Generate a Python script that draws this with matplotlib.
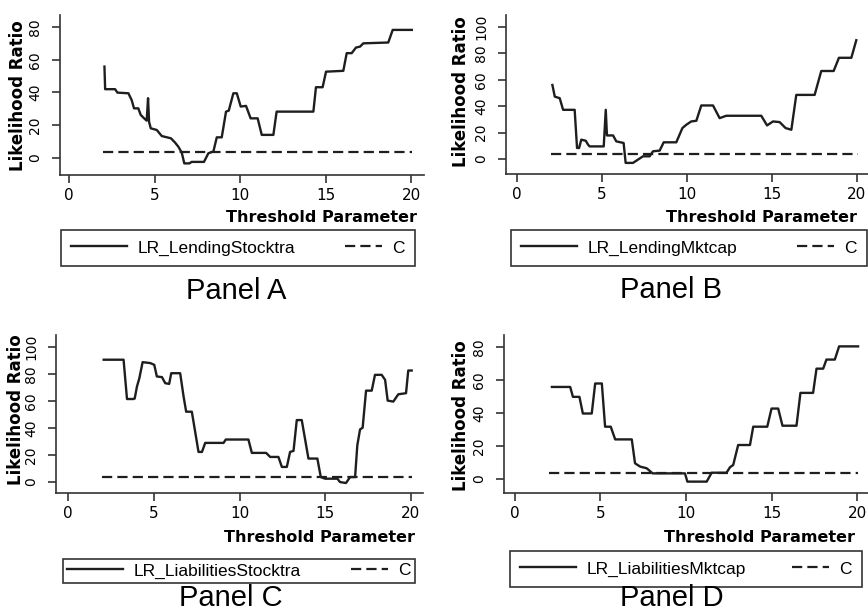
import matplotlib.pyplot as plt
from matplotlib.legend_handler import HandlerLine2D

# LR statistic against the threshold parameter
a_thr = [2.07, 2.11, 2.69, 2.83, 3.47, 3.66, 3.80, 4.05, 4.19, 4.39, 4.54, 4.62, 4.68, 4.78,
         5.13, 5.42, 5.96, 6.20, 6.39, 6.59, 6.74, 7.04, 7.17, 7.89, 8.15, 8.44, 8.64, 8.93,
         9.18, 9.34, 9.61, 9.81, 10.04, 10.35, 10.62, 11.03, 11.27, 11.95, 12.14, 14.29,
         14.44, 14.83, 15.03, 16.04, 16.24, 16.53, 16.78, 17.02, 17.21, 18.67, 18.93, 20.05]
a_lr = [55.8, 42.0, 42.0, 39.9, 39.5, 35.4, 30.3, 30.3, 26.3, 24.2, 22.8, 36.5, 22.0, 18.1,
        17.1, 13.4, 12.0, 9.4, 6.9, 3.3, -3.3, -3.3, -2.4, -2.4, 2.9, 3.9, 12.6, 12.6,
        28.3, 28.9, 39.5, 39.5, 31.4, 31.8, 24.2, 24.2, 14.1, 14.1, 28.3, 28.3,
        43.2, 43.2, 52.7, 53.2, 64.0, 64.0, 67.4, 68.0, 70.0, 70.5, 78.2, 78.2]

b_thr = [2.08, 2.22, 2.51, 2.71, 3.39, 3.53, 3.65, 3.78, 4.04, 4.18, 4.27, 5.10, 5.22, 5.29,
         5.65, 5.84, 6.27, 6.39, 6.82, 7.41, 7.80, 8.00, 8.39, 8.63, 9.37, 9.73, 9.96, 10.25,
         10.55, 10.84, 11.53, 11.92, 12.31, 14.37, 14.71, 15.06, 15.45, 15.80, 16.14, 16.43,
         17.51, 17.90, 18.63, 18.94, 19.67, 19.96]
b_lr = [56.0, 47.2, 46.0, 37.2, 37.2, 8.3, 8.3, 14.6, 13.8, 10.8, 9.5, 9.5, 37.2, 17.8,
        17.8, 13.3, 12.1, -3.0, -3.0, 2.0, 2.0, 5.8, 6.3, 12.6, 12.6, 23.4, 25.9, 28.4,
        28.9, 40.5, 40.5, 30.9, 32.7, 32.7, 25.4, 28.4, 27.9, 23.4, 22.1, 48.5,
        48.5, 66.6, 66.6, 76.6, 76.6, 89.9]

c_thr = [2.08, 3.24, 3.44, 3.83, 3.89, 4.02, 4.16, 4.35, 4.80, 5.03, 5.18, 5.48, 5.67, 5.90,
         6.02, 6.54, 6.74, 6.89, 7.22, 7.61, 7.81, 8.00, 9.07, 9.20, 10.52, 10.72, 11.55,
         11.79, 12.27, 12.47, 12.76, 12.95, 13.15, 13.34, 13.63, 14.02, 14.54, 14.74, 14.99,
         15.71, 15.86, 16.21, 16.45, 16.74, 16.87, 17.03, 17.18, 17.38, 17.71, 17.90, 18.29,
         18.49, 18.64, 18.97, 19.26, 19.71, 19.84, 20.04]
c_lr = [90.6, 90.6, 61.5, 61.5, 61.9, 70.7, 76.9, 88.8, 88.1, 86.8, 78.2, 77.7, 73.2, 72.7,
        80.6, 80.6, 63.3, 52.1, 52.1, 22.3, 22.3, 29.0, 29.0, 31.5, 31.5, 21.6, 21.6,
        18.6, 18.6, 11.2, 11.2, 22.3, 23.1, 45.9, 45.9, 17.4, 17.4, 3.7, 2.5,
        2.5, 0.0, -0.7, 3.7, 3.7, 27.3, 39.0, 40.2, 67.7, 67.7, 79.4, 79.4,
        75.7, 60.3, 59.6, 65.0, 65.8, 82.6, 82.6]

d_thr = [2.16, 3.23, 3.39, 3.77, 3.97, 4.49, 4.69, 5.08, 5.27, 5.60, 5.86, 6.83, 7.02, 7.32,
         7.70, 8.05, 9.94, 10.08, 11.21, 11.50, 12.37, 12.57, 12.76, 13.05, 13.74, 13.93,
         14.75, 15.00, 15.39, 15.64, 16.46, 16.69, 17.43, 17.63, 18.02, 18.21, 18.70, 18.95,
         20.06]
d_lr = [55.8, 55.8, 49.8, 49.8, 39.7, 39.7, 57.9, 57.9, 31.7, 31.7, 24.0, 24.0, 9.5, 7.5,
        6.5, 3.4, 3.4, -1.6, -1.6, 3.8, 3.8, 7.1, 8.5, 20.6, 20.6, 31.7,
        31.7, 42.7, 42.7, 32.3, 32.3, 52.2, 52.2, 66.9, 66.9, 72.4, 72.4, 80.4,
        80.4]

# critical value line C
crit_thr = [2.0, 20.05]
crit_lr = [3.4, 3.4]

x_ticks = [0, 5, 10, 15, 20]

W, H = 868.0, 613.0


def fx(px):
    return px / W


def fy(py):
    return 1 - py / H


# box = spine left, right, top, bottom in pixels; other positions also pixels
panels = [
    dict(thr=a_thr, lr=a_lr, name='LR_LendingStocktra', title='Panel A',
         box=(60, 424, 15, 175), xlim=(-0.53, 20.76), ylim=(-10.4, 87.3), ytop=80,
         xlab=(417, 217), ylab=(18, 96), leg=(61, 415, 230), bpad=0.6, ttl=(236, 299)),
    dict(thr=b_thr, lr=b_lr, name='LR_LendingMktcap', title='Panel B',
         box=(506, 868, 15, 174), xlim=(-0.65, 20.65), ylim=(-11.4, 109), ytop=100,
         xlab=(857, 217), ylab=(461, 92), leg=(511, 867, 230), bpad=0.6, ttl=(671, 298)),
    dict(thr=c_thr, lr=c_lr, name='LR_LiabilitiesStocktra', title='Panel C',
         box=(56, 423, 335, 493), xlim=(-0.7, 20.7), ylim=(-8.1, 108.9), ytop=100,
         xlab=(415, 537), ylab=(16, 410), leg=(63, 415, 559), bpad=0.25, ttl=(231, 606)),
    dict(thr=d_thr, lr=d_lr, name='LR_LiabilitiesMktcap', title='Panel D',
         box=(504, 868, 335, 493), xlim=(-0.64, 20.64), ylim=(-8.5, 87.3), ytop=80,
         xlab=(855, 537), ylab=(461, 416), leg=(510, 862, 551), bpad=0.6, ttl=(672, 606)),
]

ink = '#1e1e1e'
fig = plt.figure(figsize=(8.68, 6.13), dpi=100)

for p in panels:
    L, R, T, B = p['box']
    ax = fig.add_axes([fx(L), fy(B), fx(R) - fx(L), fy(T) - fy(B)])
    h1, = ax.plot(p['thr'], p['lr'], color=ink, lw=1.7)
    h2, = ax.plot(crit_thr, crit_lr, color=ink, lw=1.6, linestyle=(0, (4.6, 2.3)))
    ax.set_xlim(p['xlim'])
    ax.set_ylim(p['ylim'])
    ax.set_xticks(x_ticks)
    ax.set_yticks(range(0, p['ytop'] + 1, 20))
    for s in ['top', 'right']:
        ax.spines[s].set_visible(False)
    for s in ['left', 'bottom']:
        ax.spines[s].set_linewidth(1.2)
        ax.spines[s].set_color('#333333')
    ax.tick_params(direction='out', length=6, width=1.2, color='#333333')
    ax.tick_params(axis='x', labelsize=11, pad=3.5)
    ax.tick_params(axis='y', labelsize=10, labelrotation=90, pad=7)
    for t in ax.get_yticklabels():
        t.set_va('center')

    ax.set_xlabel('Threshold Parameter', fontsize=11.5, fontweight='bold', loc='right')
    ax.xaxis.set_label_coords((p['xlab'][0] - L) / (R - L), (B - p['xlab'][1]) / (B - T))
    ax.xaxis.label.set_va('center')
    ax.set_ylabel('Likelihood Ratio', fontsize=12, fontweight='bold')
    ax.yaxis.set_label_coords((p['ylab'][0] - L) / (R - L), (B - p['ylab'][1]) / (B - T))
    ax.yaxis.label.set_va('center')

    lx0, lx1, ly = p['leg']
    leg = ax.legend([h1, h2], [p['name'], 'C'], ncol=2, mode='expand', loc='upper left',
                    bbox_to_anchor=(fx(lx0), fy(ly), fx(lx1) - fx(lx0), 0),
                    bbox_transform=fig.transFigure, borderaxespad=0, fancybox=False,
                    edgecolor='#333333', framealpha=1, handlelength=3.2, handletextpad=0.6,
                    borderpad=p['bpad'], prop={'family': 'Liberation Sans', 'size': 12.5},
                    handler_map={h2: HandlerLine2D(xpad=1.1)})
    leg.get_frame().set_linewidth(1.2)

    fig.text(fx(p['ttl'][0]), fy(p['ttl'][1]), p['title'], ha='center', va='baseline',
             fontsize=21, family='Liberation Sans')

fig.savefig('out.png', dpi=100)
